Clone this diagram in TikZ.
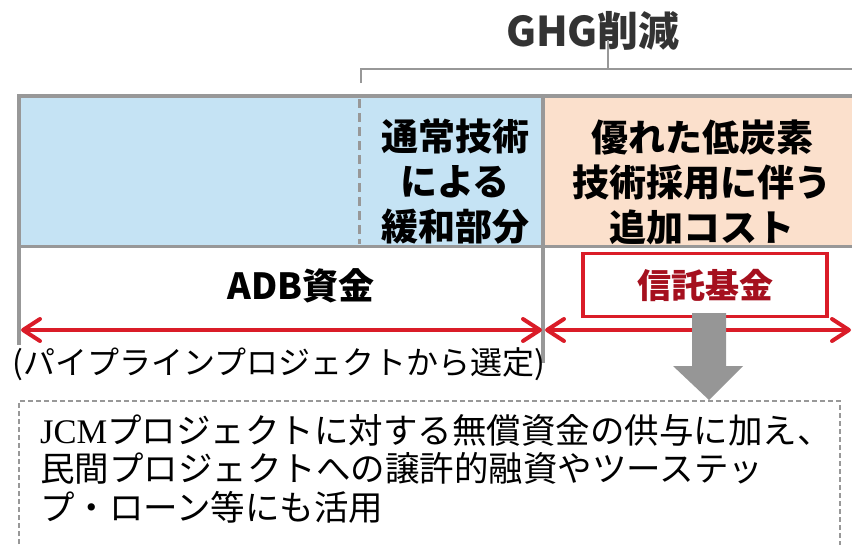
\documentclass[tikz,border=0pt]{standalone}
\usepackage{fontspec}
\setmainfont{Noto Sans CJK JP}
\newfontfamily\latinserif{Liberation Serif}
\usetikzlibrary{arrows.meta,positioning}
\definecolor{lineGray}{RGB}{152,152,152}
\definecolor{arrowGray}{RGB}{150,150,150}
\definecolor{fillBlue}{RGB}{197,227,244}
\definecolor{fillOrange}{RGB}{251,224,204}
\definecolor{arrowRed}{RGB}{218,28,40}
\definecolor{trustRed}{RGB}{165,16,30}
\definecolor{titleGray}{RGB}{51,51,51}
\tikzset{
  grayline/.style={lineGray,line width=3.5pt},
  redarrow/.style={arrowRed,line width=4pt,
    {Straight Barb[length=17pt,width=22pt,round]}-{Straight Barb[length=17pt,width=22pt,round]}},
  boldtext/.style={font=\fontsize{37}{45}\selectfont\bfseries,align=center,inner sep=0pt},
  plaintext/.style={font=\fontsize{34.5}{38.5}\selectfont,align=left,inner sep=0pt},
}
\begin{document}
\begin{tikzpicture}[x=1pt,y=-1pt]
    \clip (0,0) rectangle (852,544);
    \fill[fillBlue] (19,96) rectangle (543,246);
    \fill[fillOrange] (543,96) rectangle (852,246);
    \draw[lineGray,line width=3pt,dash pattern=on 9pt off 5pt] (359,99) -- (359,244);
    \draw[grayline] (17,96) -- (852,96);
    \draw[lineGray,line width=3pt] (17,246) -- (852,246);
    \draw[grayline] (19,96) -- (19,345);
    \draw[grayline] (543,96) -- (543,363);

    \node[boldtext,text=titleGray,font=\fontsize{41}{46}\selectfont\bfseries] (ghg) at (593,31) {GHG削減};
    \coordinate (brace) at (608,69);
    \draw[lineGray,line width=2.5pt] (361,83) -- (361,69) -- (852,69);
    \draw[lineGray,line width=2.5pt] (brace) -- ++(0,-29);

    \node[boldtext] (mitig) at (455,182) {通常技術\\による\\緩和部分};
    \node[boldtext] (extra) at (702,182) {優れた低炭素\\技術採用に伴う\\追加コスト};

    \node[boldtext,font=\fontsize{36}{40}\selectfont\bfseries] (adb) at (301,286) {ADB資金};
    \node[draw=arrowRed,line width=3.5pt,fill=white,minimum width=244pt,minimum height=63pt,
          text=trustRed,font=\fontsize{34}{38}\selectfont\bfseries] (trust) at (705,285) {信託基金};

    \coordinate (adbL) at (21,330);
    \coordinate (adbR) at (542,330);
    \coordinate (trustL) at (545,330);
    \coordinate (trustR) at (851,330);
    \draw[redarrow] (adbL) -- (adbR);
    \draw[redarrow] (trustL) -- (trustR);

    \fill[arrowGray] (692,313) -- (726,313) -- (726,366) -- (743,366) -- (709,400)
        -- (673,366) -- (692,366) -- cycle;

    \node[font=\fontsize{32}{36}\selectfont,inner sep=0pt] (pipe) at (279,364)
        {(パイプラインプロジェクトから選定)};

    \draw[lineGray,line width=1.5pt,dash pattern=on 5pt off 3pt] (19,560) -- (19,401) -- (840,401) -- (840,560);
    \node[plaintext,anchor=north west] (usage) at (40,414)
        {{\latinserif JCM}プロジェクトに対する無償資金の供与に加え、\\民間プロジェクトへの譲許的融資やツーステッ\\プ・ローン等にも活用};
\end{tikzpicture}
\end{document}
